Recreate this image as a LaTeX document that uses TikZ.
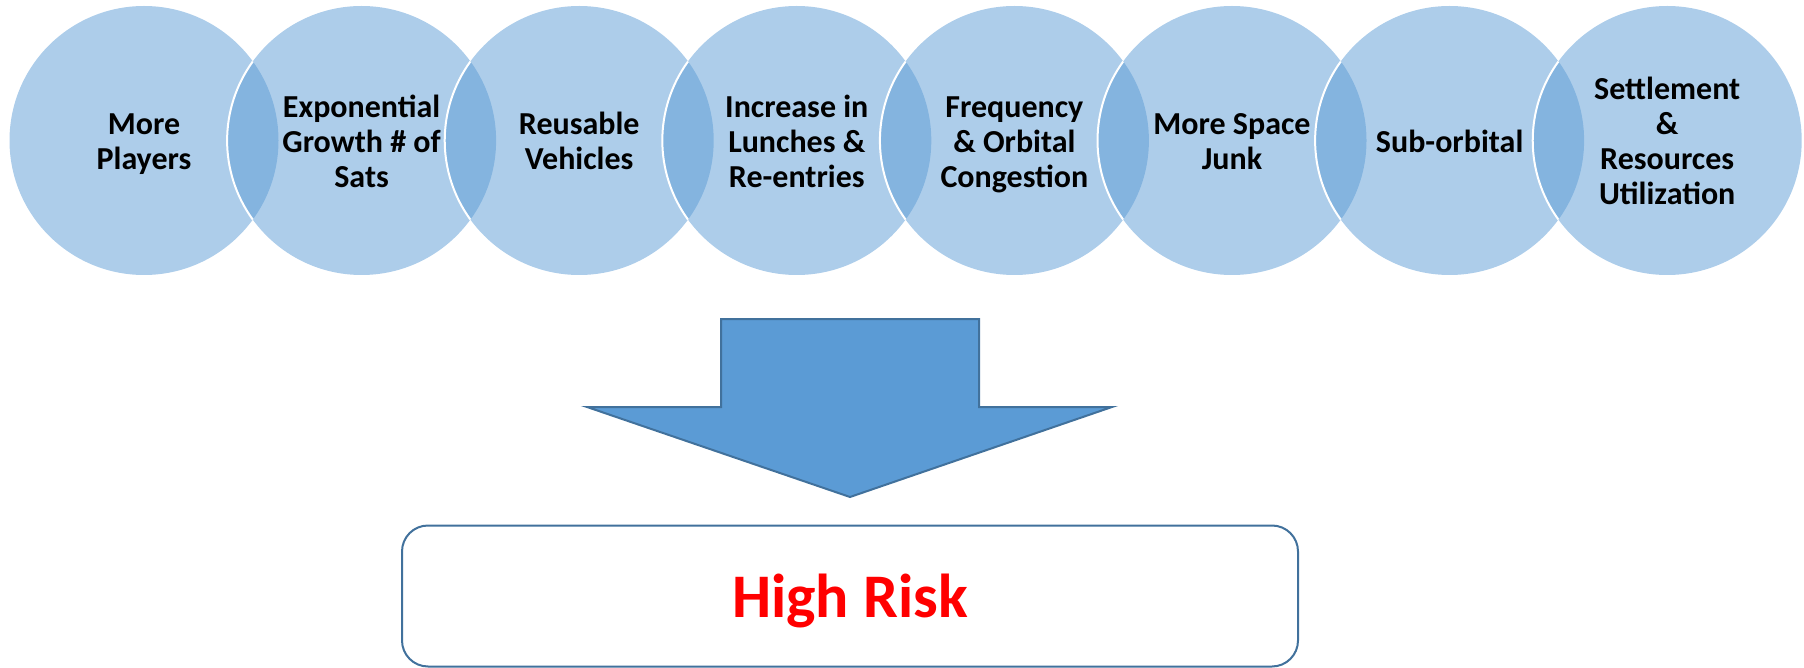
\documentclass[tikz,border=0pt]{standalone}
\usepackage{fontspec}
\setmainfont{Carlito}
\usetikzlibrary{calc}
\definecolor{accent}{HTML}{5B9BD5}
\definecolor{edgeblue}{HTML}{41719C}
\definecolor{riskred}{HTML}{FF0000}
\begin{document}
\begin{tikzpicture}[x=1pt,y=-1pt,
  bubble/.style={circle,minimum size=269pt,inner sep=0pt,fill=accent,fill opacity=0.5,draw=none},
  bubtext/.style={align=center,inner sep=0pt,text=black,yshift=-5pt,font={\fontsize{32}{35}\selectfont\bfseries}},
  rim/.style={draw=white,line width=2pt},
  bigarrow/.style={fill=accent,draw=edgeblue,line width=2pt,line join=miter},
  riskbox/.style={draw=edgeblue,line width=2pt,fill=white,rounded corners=26pt,minimum width=896pt,minimum height=141pt,inner sep=0pt,text depth=0pt,text=riskred,font={\fontsize{62}{70}\selectfont\bfseries}}]
\useasboundingbox (0,0) rectangle (1804,668);
% circles
\foreach \i in {0,...,7}{
  \node[bubble] (c\i) at ({144+217.6*\i},140.5) {};
}
% white rims inside the previous circle
\foreach \i in {1,...,7}{
  \draw[rim] ($(c\i.center)+(-108.8,79.1)$) arc[start angle=144,end angle=216,radius=134.5];
}
% texts
\node[bubtext] (t0) at (c0) {\strut More\\Players\strut};
\node[bubtext] (t1) at (c1) {\strut Exponential\\Growth \# of\\Sats\strut};
\node[bubtext] (t2) at (c2) {\strut Reusable\\Vehicles\strut};
\node[bubtext] (t3) at (c3) {\strut Increase in\\Lunches \&\\Re-entries\strut};
\node[bubtext] (t4) at (c4) {\strut Frequency\\\& Orbital\\Congestion\strut};
\node[bubtext] (t5) at (c5) {\strut More Space\\Junk\strut};
\node[bubtext] (t6) at (c6) {\strut Sub-orbital\strut};
\node[bubtext] (t7) at (c7) {\strut Settlement\\\&\\Resources\\Utilization\strut};
% arrow
\draw[bigarrow] (721,319) -- (979,319) -- (979,407) -- (1112,407) -- (850,497) -- (587,407) -- (721,407) -- cycle;
% box
\node[riskbox] (risk) at (850,596) {High Risk};
\end{tikzpicture}
\end{document}
